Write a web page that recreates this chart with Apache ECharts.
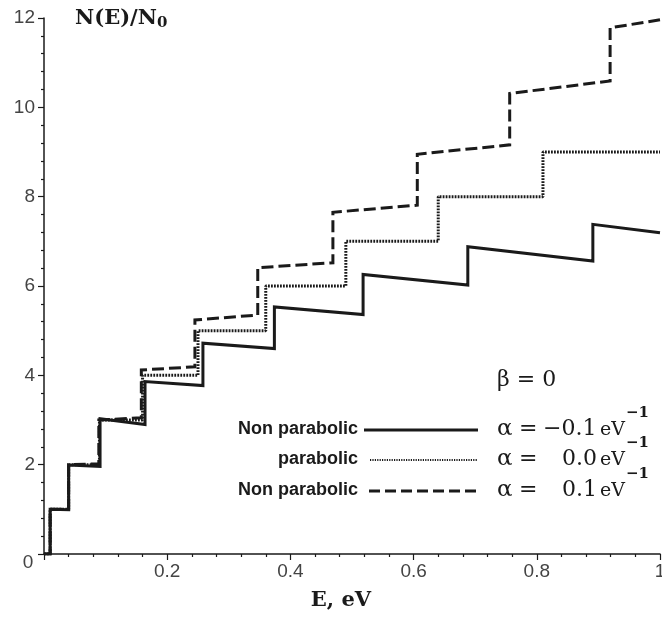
<!DOCTYPE html>
<html><head><meta charset="utf-8">
<script src="https://cdn.jsdelivr.net/npm/echarts@6/dist/echarts.min.js"></script>
<style>html,body{margin:0;padding:0;background:#fff}#c{width:662px;height:628px}</style>
</head><body><div id="c"></div>
<script>
// ---- Data ----
// alpha = -0.1 eV^-1 (non parabolic, solid)
const stepE_neg  = [0.010, 0.040, 0.091, 0.164, 0.258, 0.374, 0.518, 0.688, 0.891];
const startN_neg = [1.00, 1.99, 3.03, 3.86, 4.72, 5.53, 6.26, 6.88, 7.38];
const endN_neg   = [0.99, 1.96, 2.90, 3.77, 4.60, 5.36, 6.02, 6.56, 7.19];
// alpha = 0.0 (parabolic, dotted)
const stepE_par  = [0.01, 0.04, 0.09, 0.16, 0.25, 0.36, 0.49, 0.64, 0.81];
const startN_par = [1, 2, 3, 4, 5, 6, 7, 8, 9];
const endN_par   = [1, 2, 3, 4, 5, 6, 7, 8, 9];
// alpha = +0.1 eV^-1 (non parabolic, dashed)
const stepE_pos  = [0.010, 0.040, 0.089, 0.158, 0.245, 0.347, 0.469, 0.606, 0.756, 0.919];
const startN_pos = [1.00, 2.00, 3.00, 4.12, 5.24, 6.41, 7.65, 8.95, 10.31, 11.78];
const endN_pos   = [1.00, 2.02, 3.05, 4.19, 5.35, 6.52, 7.81, 9.16, 10.59, 11.96];

const xTickValues = [0.2, 0.4, 0.6, 0.8, 1];
const xTickLabels = ['0.2', '0.4', '0.6', '0.8', '1'];
const yTickValues = [2, 4, 6, 8, 10, 12];
const yTickLabels = ['2', '4', '6', '8', '10', '12'];
const originLabel = '0';

const legendNames  = ['Non parabolic', 'parabolic', 'Non parabolic'];
const alphaValues  = ['\u22120.1', '0.0', '0.1'];
const betaLabel    = '\u03B2 = 0';
const yTitle = 'N(E)/N';
const yTitleSub = '0';
const xTitle = 'E, eV';
const E_MAX = 1;

// ---- build step polylines from plateau data ----
function stepLine(E, s, e, eMax) {
  const pts = [[0, 0]];
  for (let i = 0; i < E.length; i++) {
    pts.push([E[i], i === 0 ? 0 : e[i - 1]]);
    pts.push([E[i], s[i]]);
  }
  pts.push([eMax, e[e.length - 1]]);
  return pts;
}
function lookup(vals, labels, v) {
  for (let i = 0; i < vals.length; i++) if (Math.abs(vals[i] - v) < 1e-6) return labels[i];
  return '';
}

const INK = '#1a1a1a';
const serif = '"DejaVu Serif", "Liberation Serif", serif';
const sans = '"Liberation Sans", Arial, sans-serif';

const chart = echarts.init(document.getElementById('c'), null, {renderer: 'canvas'});

// legend rows (layout positions)
const rowY = [429, 459, 490];
const legendDash = [null, [1.2, 1.2], [11, 5]];
const legendW = [3, 2, 3];
const legendX1 = [364, 370, 369];
const graphics = [];
// y title
graphics.push({type: 'text', style: {text: yTitle, x: 75, y: 19, font: 'bold 21px ' + serif, fill: INK, textAlign: 'left', textVerticalAlign: 'middle'}});
graphics.push({type: 'text', style: {text: yTitleSub, x: 157, y: 23, font: 'bold 15px ' + serif, fill: INK, textAlign: 'left', textVerticalAlign: 'middle'}});
// x title
graphics.push({type: 'text', style: {text: xTitle, x: 341, y: 601, font: 'bold 21px ' + serif, fill: INK, textAlign: 'center', textVerticalAlign: 'middle'}});
// origin label
graphics.push({type: 'text', style: {text: originLabel, x: 28, y: 563, font: '19px ' + sans, fill: '#444', textAlign: 'center', textVerticalAlign: 'middle'}});
// beta
graphics.push({type: 'text', style: {text: betaLabel, x: 497, y: 380, font: '22px ' + serif, fill: INK, textAlign: 'left', textVerticalAlign: 'middle'}});
for (let i = 0; i < 3; i++) {
  const y = rowY[i];
  graphics.push({type: 'text', style: {text: legendNames[i], x: 358, y: y, font: 'bold 18px ' + sans, fill: INK, textAlign: 'right', textVerticalAlign: 'middle'}});
  const ls = {stroke: INK, lineWidth: legendW[i]};
  if (legendDash[i]) ls.lineDash = legendDash[i];
  graphics.push({type: 'line', shape: {x1: legendX1[i], y1: y + 1, x2: 478, y2: y + 1}, style: ls});
  graphics.push({type: 'text', style: {text: '\u03B1', x: 497, y: y, font: '23px ' + serif, fill: INK, textAlign: 'left', textVerticalAlign: 'middle'}});
  graphics.push({type: 'text', style: {text: '=', x: 519, y: y, font: '22px ' + serif, fill: INK, textAlign: 'left', textVerticalAlign: 'middle'}});
  graphics.push({type: 'text', style: {text: alphaValues[i], x: i === 0 ? 543 : 562, y: y, font: '22px ' + serif, fill: INK, textAlign: 'left', textVerticalAlign: 'middle'}});
  graphics.push({type: 'text', style: {text: 'eV', x: 600, y: y + 1, font: '19px ' + serif, fill: INK, textAlign: 'left', textVerticalAlign: 'middle'}});
  graphics.push({type: 'text', style: {text: '\u22121', x: 626, y: y - 16, font: 'bold 15px ' + serif, fill: INK, textAlign: 'left', textVerticalAlign: 'middle'}});
}

const axisCommon = {
  axisLine: {show: true, onZero: false, lineStyle: {color: INK, width: 1.5}},
  axisTick: {show: true, inside: false, length: 6, lineStyle: {color: INK, width: 1.2}},
  minorTick: {show: true, splitNumber: 5, length: 3, lineStyle: {color: INK, width: 1.2}},
  splitLine: {show: false},
  minorSplitLine: {show: false}
};

chart.setOption({
  animation: false,
  backgroundColor: '#fff',
  grid: {left: 44, right: 2, top: 18, bottom: 74, containLabel: false, outerBoundsMode: 'none'},
  xAxis: Object.assign({
    type: 'value', min: 0, max: 1, interval: 0.2,
    axisLabel: {margin: 8, fontFamily: sans, fontSize: 19, color: '#444',
      formatter: v => lookup(xTickValues, xTickLabels, v)}
  }, axisCommon),
  yAxis: Object.assign({
    type: 'value', min: 0, max: 12, interval: 2,
    axisLabel: {margin: 9, fontFamily: sans, fontSize: 19, color: '#444',
      formatter: v => lookup(yTickValues, yTickLabels, v)}
  }, axisCommon),
  series: [
    {name: 'alpha=-0.1', type: 'line', data: stepLine(stepE_neg, startN_neg, endN_neg, E_MAX),
      symbol: 'none', lineStyle: {color: INK, width: 3, type: 'solid', join: 'miter'}, z: 3},
    {name: 'alpha=0.0', type: 'line', data: stepLine(stepE_par, startN_par, endN_par, E_MAX),
      symbol: 'none', lineStyle: {color: '#1a1a1a', width: 3, type: [1.8, 1.2]}, z: 2},
    {name: 'alpha=0.1', type: 'line', data: stepLine(stepE_pos, startN_pos, endN_pos, E_MAX),
      symbol: 'none', lineStyle: {color: INK, width: 3, type: [12, 5], join: 'miter'}, z: 2}
  ],
  graphic: graphics
});
</script></body></html>
